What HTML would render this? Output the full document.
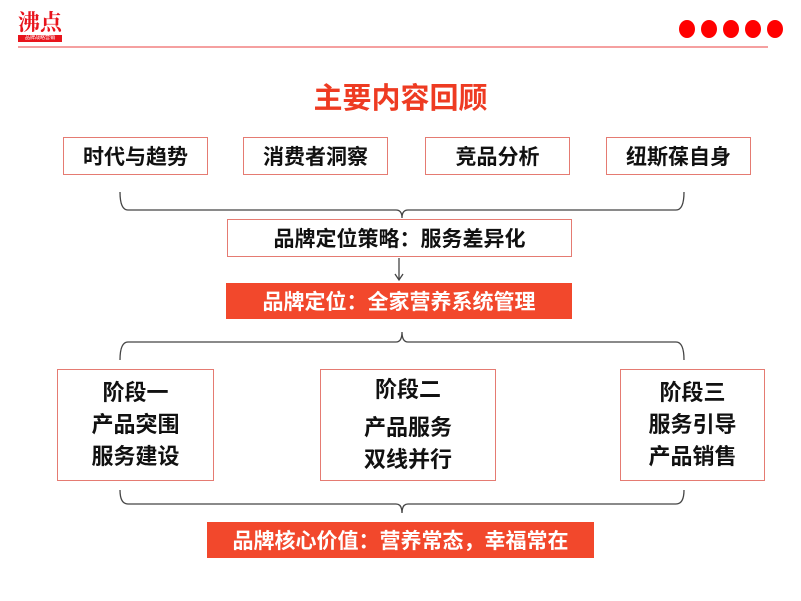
<!DOCTYPE html>
<html><head><meta charset="utf-8"><style>
body{margin:0;width:801px;height:601px;background:#fff;position:relative;overflow:hidden;font-family:"Liberation Sans","Noto Sans CJK SC",sans-serif}
.a{position:absolute;box-sizing:border-box}
.b{border:1.5px solid #e57b72;background:#fff;display:flex;align-items:center;justify-content:center;color:#111;font-size:21px;font-weight:bold}
.o{background:#f2482c;color:#fff;display:flex;align-items:center;justify-content:center;font-size:21px;font-weight:bold}
.dot{width:16px;height:18px;border-radius:50%;background:#f00;top:20px}
.ph{flex-direction:column;font-size:22px;line-height:32px}
</style></head><body>
<div class="a" style="left:18px;top:9px;font-family:'Noto Serif CJK SC',serif;font-size:22px;color:#e8141c;font-weight:bold;line-height:26px">沸点</div>
<div class="a" style="left:18px;top:35px;width:44px;height:7px;background:#e8141c;color:#fff;font-size:5px;line-height:7px;text-align:center;overflow:hidden">品牌战略营销</div>
<div class="a" style="left:18px;top:46px;width:750px;height:2px;background:#f5a0a0"></div>
<div class="a dot" style="left:679px"></div>
<div class="a dot" style="left:701px"></div>
<div class="a dot" style="left:723px"></div>
<div class="a dot" style="left:745px"></div>
<div class="a dot" style="left:767px"></div>
<div class="a" style="left:0;width:801px;top:80px;text-align:center;font-size:29px;font-weight:bold;color:#ee3b22;line-height:38px">主要内容回顾</div>

<div class="a b" style="left:63px;top:137px;width:145px;height:38px">时代与趋势</div>
<div class="a b" style="left:243px;top:137px;width:145px;height:38px">消费者洞察</div>
<div class="a b" style="left:425px;top:137px;width:145px;height:38px">竞品分析</div>
<div class="a b" style="left:606px;top:137px;width:145px;height:38px">纽斯葆自身</div>

<svg class="a" style="left:0;top:0" width="801" height="601" fill="none" stroke="#444" stroke-width="1.3">
<path d="M120 192 Q120 210 128 210 L396 210 Q402 210 402 218 Q402 210 408 210 L676 210 Q684 210 684 192"/>
<path d="M399 258 L399 279 M395 274 L399 280 L403 274"/>
<path d="M120 360 Q120 342 128 342 L396 342 Q402 342 402 332 Q402 342 408 342 L676 342 Q684 342 684 360"/>
<path d="M120 490 Q120 504 128 504 L396 504 Q402 504 402 513 Q402 504 408 504 L676 504 Q684 504 684 490"/>
</svg>

<div class="a b" style="left:227px;top:219px;width:345px;height:38px">品牌定位策略：服务差异化</div>
<div class="a o" style="left:226px;top:283px;width:346px;height:36px">品牌定位：全家营养系统管理</div>

<div class="a b ph" style="left:57px;top:369px;width:157px;height:112px"><span>阶段一</span><span>产品突围</span><span>服务建设</span></div>
<div class="a b ph" style="left:320px;top:369px;width:176px;height:112px"><span>阶段二</span><span style="margin-top:6px">产品服务</span><span>双线并行</span></div>
<div class="a b ph" style="left:620px;top:369px;width:145px;height:112px"><span>阶段三</span><span>服务引导</span><span>产品销售</span></div>

<div class="a o" style="left:207px;top:522px;width:387px;height:36px">品牌核心价值：营养常态，幸福常在</div>
</body></html>
